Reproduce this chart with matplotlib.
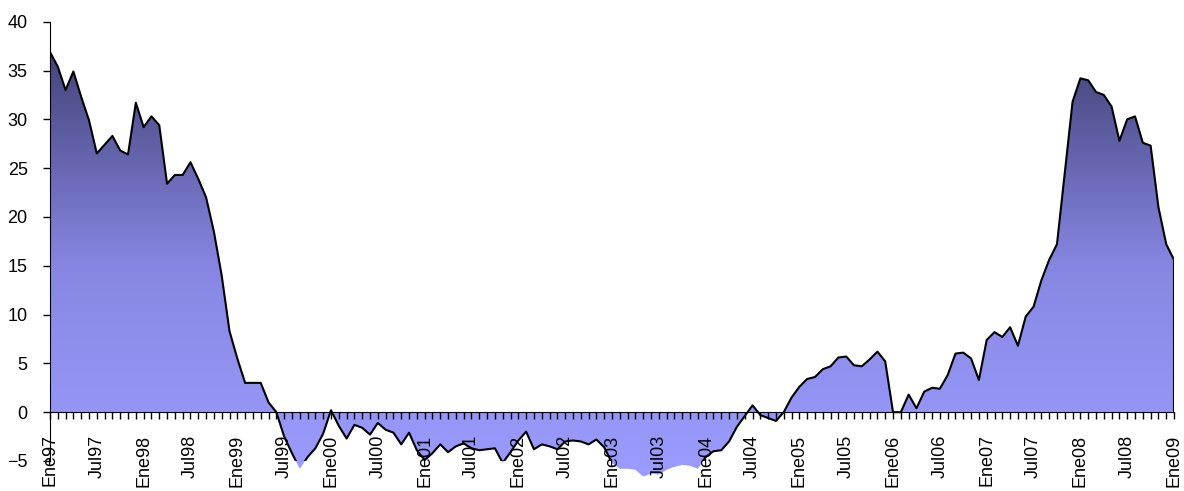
import numpy as np
import matplotlib
matplotlib.use("Agg")
import matplotlib.pyplot as plt
from matplotlib.path import Path
from matplotlib.patches import Rectangle
from matplotlib.colors import LinearSegmentedColormap
from matplotlib.ticker import MultipleLocator, FixedLocator, FixedFormatter

plt.rcParams['font.family'] = ['Liberation Sans', 'DejaVu Sans']

# monthly series, Ene97 .. Ene09
values = [
    36.9, 35.4, 33.0, 34.9, 32.3, 29.9, 26.5, 27.4, 28.3, 26.8, 26.4, 31.7,
    29.2, 30.3, 29.4, 23.4, 24.3, 24.3, 25.6, 23.9, 22.0, 18.5, 14.0, 8.3,
    5.5, 3.0, 3.0, 3.0, 1.0, 0.0, -2.5, -4.2, -5.8, -4.6, -3.7, -2.2,
    0.2, -1.4, -2.7, -1.3, -1.6, -2.3, -1.1, -1.8, -2.1, -3.3, -2.1, -3.9,
    -4.9, -4.2, -3.3, -4.1, -3.5, -3.2, -3.7, -3.9, -3.8, -3.7, -5.2, -4.1,
    -2.9, -2.0, -3.8, -3.3, -3.5, -3.8, -3.0, -2.9, -3.0, -3.3, -2.8, -3.6,
    -5.2, -5.8, -5.8, -5.9, -6.6, -6.3, -6.4, -5.9, -5.6, -5.4, -5.5, -5.8,
    -4.6, -4.0, -3.9, -3.0, -1.5, -0.4, 0.7, -0.3, -0.6, -0.9, 0.0, 1.5,
    2.6, 3.4, 3.6, 4.4, 4.7, 5.6, 5.7, 4.8, 4.7, 5.4, 6.2, 5.2,
    0.0, 0.0, 1.8, 0.4, 2.1, 2.5, 2.4, 3.8, 6.0, 6.1, 5.5, 3.3,
    7.4, 8.2, 7.7, 8.7, 6.8, 9.8, 10.8, 13.5, 15.6, 17.2, 24.5, 31.8,
    34.2, 34.0, 32.8, 32.5, 31.3, 27.8, 30.0, 30.3, 27.6, 27.3, 21.0, 17.2,
    15.6,
]
years = ['97', '98', '99', '00', '01', '02', '03', '04', '05', '06', '07', '08', '09']
tick_labels = []
for yy in years:
    tick_labels.append('Ene' + yy)
    if yy != '09':
        tick_labels.append('Jul' + yy)

vals = np.array(values)
x = np.arange(len(vals))

fig = plt.figure(figsize=(11.84, 4.91), dpi=100)
ax = fig.add_axes([0.0422, 0.0214, 0.9494, 0.9344])
ax.set_xlim(0, len(vals) - 1)
ax.set_ylim(-7, 40)
ax.patch.set_alpha(0)

# gradient fill clipped to the area polygon
verts = [(x[0], 0)] + list(zip(x, vals)) + [(x[-1], 0), (x[0], 0)]
area = Path(verts, closed=True)
cmap = LinearSegmentedColormap.from_list('area', ['#9c9cff', '#8686e2', '#44447a'])
grad = np.linspace(0, 1, 256).reshape(-1, 1)
im = ax.imshow(grad, cmap=cmap, aspect='auto', origin='lower',
               extent=[x[0], x[-1], vals.min(), vals.max()], zorder=1,
               interpolation='bilinear')
im.set_clip_path(area, ax.transData)

# outline, hidden below the -5 floor
floor = Rectangle((x[0], -5), x[-1] - x[0], 45, transform=ax.transData)
line, = ax.plot(x, vals, color='black', lw=1.5, zorder=3)
edge, = ax.plot([x[-1], x[-1]], [vals[-1], 0], color='black', lw=1.5, zorder=3)
line.set_clip_path(floor)

for s in ['top', 'right']:
    ax.spines[s].set_visible(False)
ax.spines['bottom'].set_position(('data', 0))
ax.spines['left'].set_bounds(-5, 40)
ax.spines['bottom'].set_zorder(4)

ax.yaxis.set_major_locator(FixedLocator(np.arange(-5, 41, 5)))
ax.tick_params(axis='y', length=5, width=1, pad=11, labelsize=13)

ax.xaxis.set_major_locator(FixedLocator(np.arange(0, len(vals), 6)))
ax.xaxis.set_major_formatter(FixedFormatter(tick_labels))
ax.xaxis.set_minor_locator(MultipleLocator(1))
ax.tick_params(axis='x', which='both', length=5, width=1, direction='out')
ax.tick_params(axis='x', which='major', pad=11, labelsize=13, labelrotation=90)
for lbl in ax.get_xticklabels():
    lbl.set_zorder(5)

fig.savefig('out.png', dpi=100)
